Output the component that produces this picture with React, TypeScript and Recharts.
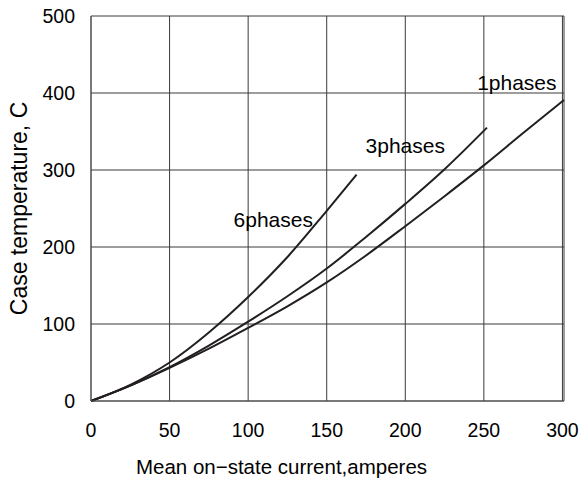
import React from 'react';
import {
  LineChart,
  Line,
  XAxis,
  YAxis,
  CartesianGrid,
  ReferenceDot,
} from 'recharts';

// values
const xTicks = [0, 50, 100, 150, 200, 250, 300];
const yTicks = [0, 100, 200, 300, 400, 500];

const sixPhase = [
  { x: 0, y: 0 },
  { x: 25, y: 21 },
  { x: 50, y: 50 },
  { x: 75, y: 89 },
  { x: 100, y: 135 },
  { x: 125, y: 187 },
  { x: 150, y: 247 },
  { x: 169, y: 294 },
];

const threePhase = [
  { x: 0, y: 0 },
  { x: 25, y: 20 },
  { x: 50, y: 44 },
  { x: 75, y: 72 },
  { x: 100, y: 103 },
  { x: 125, y: 136 },
  { x: 150, y: 172 },
  { x: 175, y: 213 },
  { x: 200, y: 256 },
  { x: 225, y: 301 },
  { x: 252, y: 355 },
];

const onePhase = [
  { x: 0, y: 0 },
  { x: 25, y: 20 },
  { x: 50, y: 43 },
  { x: 75, y: 68 },
  { x: 100, y: 95 },
  { x: 125, y: 123 },
  { x: 150, y: 154 },
  { x: 175, y: 189 },
  { x: 200, y: 227 },
  { x: 225, y: 266 },
  { x: 250, y: 306 },
  { x: 275, y: 348 },
  { x: 301, y: 391 },
];

const seriesLabels = [
  { name: '6phases', x: 116, y: 236 },
  { name: '3phases', x: 200, y: 332 },
  { name: '1phases', x: 271, y: 414 },
];

const FONT = 'Arial, "Liberation Sans", sans-serif';
const INK = '#231f20';

export default function App() {
  return (
    <div style={{ position: 'absolute', left: 0, top: 0, background: '#fff' }}>
      <LineChart
        width={587}
        height={481}
        margin={{ top: 16, right: 23, bottom: 0, left: 0 }}
      >
        <CartesianGrid stroke="#3a3a3a" strokeWidth={1} />
        <XAxis
          type="number"
          dataKey="x"
          domain={[0, 300]}
          ticks={xTicks}
          height={80}
          tickLine={false}
          tickSize={0}
          tickMargin={22}
          axisLine={{ stroke: '#555' }}
          tick={{ fontSize: 19.5, fontFamily: FONT, fill: '#000' }}
          label={{
            value: 'Mean on\u2212state current,amperes',
            position: 'center',
            dx: -46,
            dy: 26,
            style: { fontSize: 20.5, fontFamily: FONT, fill: '#000' },
          }}
        />
        <YAxis
          type="number"
          domain={[0, 500]}
          ticks={yTicks}
          width={91}
          tickLine={false}
          tickSize={0}
          tickMargin={16}
          axisLine={{ stroke: '#555' }}
          tick={{ fontSize: 19.5, fontFamily: FONT, fill: '#000' }}
          label={{
            value: 'Case temperature, C',
            angle: -90,
            position: 'center',
            dx: -27,
            style: { fontSize: 23, fontFamily: FONT, fill: '#000' },
          }}
        />
        <Line data={sixPhase} dataKey="y" type="monotone" stroke={INK} strokeWidth={2} dot={false} isAnimationActive={false} />
        <Line data={threePhase} dataKey="y" type="monotone" stroke={INK} strokeWidth={2} dot={false} isAnimationActive={false} />
        <Line data={onePhase} dataKey="y" type="monotone" stroke={INK} strokeWidth={2} dot={false} isAnimationActive={false} />
        {seriesLabels.map((s) => (
          <ReferenceDot
            key={s.name}
            x={s.x}
            y={s.y}
            r={0}
            stroke="none"
            fill="none"
            ifOverflow="visible"
            label={{
              value: s.name,
              position: 'center',
              style: { fontSize: 21, fontFamily: FONT, fill: '#000' },
            }}
          />
        ))}
      </LineChart>
    </div>
  );
}
